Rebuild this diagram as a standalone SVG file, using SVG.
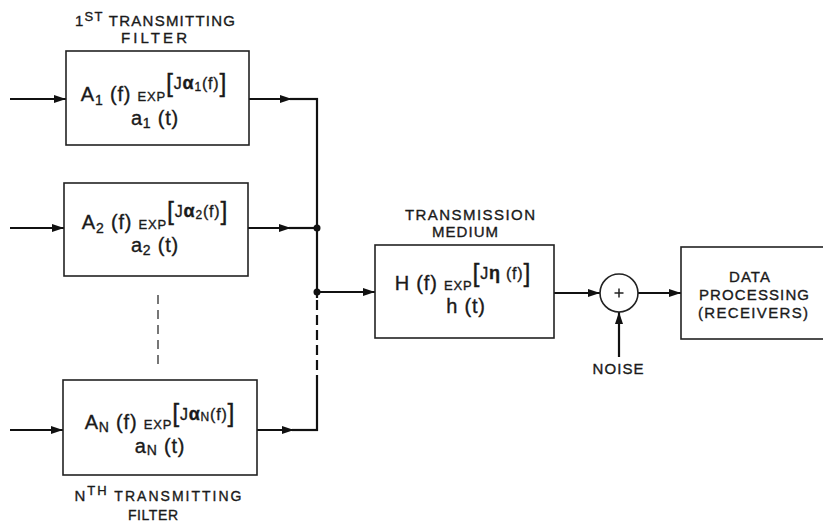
<svg xmlns="http://www.w3.org/2000/svg" width="823" height="522" viewBox="0 0 823 522">
  <style>
    .box { fill: #fff; stroke: #222; stroke-width: 1.6; }
    .ln { fill: none; stroke: #111; stroke-width: 2.2; }
    .dash { fill: none; stroke: #111; stroke-width: 2.2; stroke-dasharray: 10 5; }
    .thin { fill: none; stroke: #555; stroke-width: 1.6; stroke-dasharray: 9 6; }
    .dot { fill: #111; }
    text { font-family: "Liberation Sans", Arial, sans-serif; fill: #1a1a1a; stroke: #1a1a1a; stroke-width: 0.35px; }
    .lbl { font-size: 15px; }
    .m { font-size: 20px; letter-spacing: 0.8px; }
    .sub { font-size: 14px; }
    .sm { font-size: 13px; }
    .cap { font-size: 14px; }
    .br { font-size: 25px; }
    .ex { font-size: 16px; }
    .gk { font-size: 18px; font-weight: bold; }
    .s8 { font-size: 12px; }
  </style>
  <defs>
    <marker id="ah" viewBox="0 0 12 8" refX="12" refY="4" markerWidth="12" markerHeight="8" markerUnits="userSpaceOnUse" orient="auto">
      <path d="M0,0 L12,4 L0,8 Z" fill="#111"/>
    </marker>
  </defs>

  <!-- signal paths -->
  <g id="connectors">
    <line class="ln" x1="10" y1="99" x2="66" y2="99" marker-end="url(#ah)"/>
    <line class="ln" x1="10" y1="228" x2="64" y2="228" marker-end="url(#ah)"/>
    <line class="ln" x1="10" y1="430" x2="63" y2="430" marker-end="url(#ah)"/>
    <line class="ln" x1="249" y1="99" x2="292" y2="99" marker-end="url(#ah)"/>
    <line class="ln" x1="290" y1="99" x2="318" y2="99"/>
    <line class="ln" x1="248" y1="228" x2="291" y2="228" marker-end="url(#ah)"/>
    <line class="ln" x1="289" y1="228" x2="317" y2="228"/>
    <line class="ln" x1="257" y1="430" x2="294" y2="430" marker-end="url(#ah)"/>
    <line class="ln" x1="292" y1="430" x2="318" y2="430"/>
    <!-- summing bus -->
    <line class="ln" x1="317" y1="98" x2="317" y2="298"/>
    <line class="dash" x1="317" y1="300" x2="317" y2="383"/>
    <line class="ln" x1="317" y1="383" x2="317" y2="431"/>
    <circle class="dot" cx="317" cy="228" r="3.5"/>
    <circle class="dot" cx="317" cy="292" r="3.5"/>
    <line class="ln" x1="317" y1="292" x2="375" y2="292" marker-end="url(#ah)"/>
    <!-- medium to adder to receiver -->
    <line class="ln" x1="554" y1="293" x2="600" y2="293" marker-end="url(#ah)"/>
    <line class="ln" x1="638" y1="293" x2="681" y2="293" marker-end="url(#ah)"/>
    <line class="ln" x1="619" y1="357" x2="619" y2="312" marker-end="url(#ah)"/>
    <!-- omitted filters -->
    <line class="thin" x1="158" y1="295" x2="158" y2="364"/>
  </g>

  <g id="filter1">
    <rect class="box" x="66" y="51" width="183" height="94"/>
    <text class="lbl" x="155" y="26" text-anchor="middle" textLength="160" lengthAdjust="spacing">1<tspan class="sm" dy="-5">ST</tspan><tspan dy="5"> TRANSMITTING</tspan></text>
    <text class="lbl" x="154" y="43" text-anchor="middle" textLength="66" lengthAdjust="spacing">FILTER</text>
    <text class="m" x="154" y="101" text-anchor="middle">A<tspan class="sub" dy="4">1</tspan><tspan dy="-4"> (f) </tspan><tspan class="sm">EXP</tspan><tspan class="br" dy="-9">[</tspan><tspan class="ex" dy="-3">J</tspan><tspan class="gk">α</tspan><tspan class="s8" dy="2">1</tspan><tspan class="ex" dy="-2">(f)</tspan><tspan class="br" dy="3">]</tspan></text>
    <text class="m" x="155" y="125" text-anchor="middle">a<tspan class="sub" dy="3">1</tspan><tspan dy="-3"> (t)</tspan></text>
  </g>

  <g id="filter2">
    <rect class="box" x="64" y="183" width="184" height="93"/>
    <text class="m" x="155" y="229" text-anchor="middle">A<tspan class="sub" dy="4">2</tspan><tspan dy="-4"> (f) </tspan><tspan class="sm">EXP</tspan><tspan class="br" dy="-9">[</tspan><tspan class="ex" dy="-3">J</tspan><tspan class="gk">α</tspan><tspan class="s8" dy="2">2</tspan><tspan class="ex" dy="-2">(f)</tspan><tspan class="br" dy="3">]</tspan></text>
    <text class="m" x="155" y="252" text-anchor="middle">a<tspan class="sub" dy="3">2</tspan><tspan dy="-3"> (t)</tspan></text>
  </g>

  <g id="filterN">
    <rect class="box" x="63" y="380" width="194" height="95"/>
    <text class="m" x="160" y="429" text-anchor="middle">A<tspan class="sub" dy="3">N</tspan><tspan dy="-3"> (f) </tspan><tspan class="sm">EXP</tspan><tspan class="br" dy="-7">[</tspan><tspan class="ex" dy="-2">J</tspan><tspan class="gk">α</tspan><tspan class="s8" dy="1">N</tspan><tspan class="ex" dy="-1">(f)</tspan><tspan class="br" dy="2">]</tspan></text>
    <text class="m" x="160" y="453" text-anchor="middle">a<tspan class="sub" dy="2">N</tspan><tspan dy="-2"> (t)</tspan></text>
    <text class="lbl" x="158" y="501" text-anchor="middle" textLength="167" lengthAdjust="spacing">N<tspan class="sm" dy="-6">TH</tspan><tspan class="cap" dy="6"> TRANSMITTING</tspan></text>
    <text class="cap" x="153" y="520" text-anchor="middle" textLength="50" lengthAdjust="spacing">FILTER</text>
  </g>

  <g id="medium">
    <rect class="box" x="375" y="245" width="179" height="93"/>
    <text class="lbl" x="470" y="220" text-anchor="middle" textLength="130" lengthAdjust="spacing">TRANSMISSION</text>
    <text class="lbl" x="465" y="237" text-anchor="middle" textLength="66" lengthAdjust="spacing">MEDIUM</text>
    <text class="m" x="463" y="290" text-anchor="middle">H (f) <tspan class="sm">EXP</tspan><tspan class="br" dy="-8">[</tspan><tspan class="ex" dy="-3">J</tspan><tspan class="gk">η</tspan><tspan class="ex"> (f)</tspan><tspan class="br" dy="3">]</tspan></text>
    <text class="m" x="466" y="313" text-anchor="middle">h (t)</text>
  </g>

  <g id="adder">
    <circle cx="619" cy="293" r="19" fill="#fff" stroke="#222" stroke-width="1.6"/>
    <line x1="614.5" y1="293" x2="623.5" y2="293" stroke="#222" stroke-width="1.5"/>
    <line x1="619" y1="288.5" x2="619" y2="297.5" stroke="#222" stroke-width="1.5"/>
    <text class="lbl" x="618" y="374" text-anchor="middle" textLength="51" lengthAdjust="spacing">NOISE</text>
  </g>

  <g id="receiver">
    <rect class="box" x="681" y="247" width="160" height="92"/>
    <text class="lbl" x="750" y="282" text-anchor="middle" letter-spacing="1">DATA</text>
    <text class="lbl" x="754" y="300" text-anchor="middle" textLength="110" lengthAdjust="spacing">PROCESSING</text>
    <text class="lbl" x="753" y="318" text-anchor="middle" textLength="110" lengthAdjust="spacing">(RECEIVERS)</text>
  </g>
</svg>
